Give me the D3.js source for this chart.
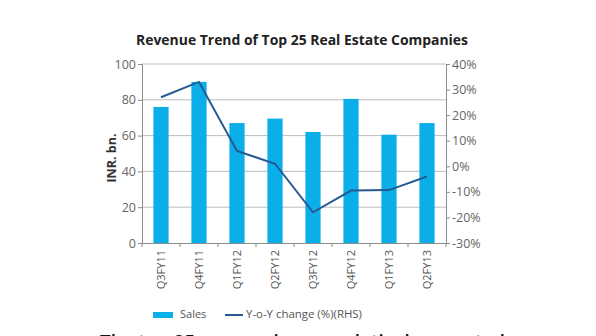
<!DOCTYPE html>
<html>
<head>
<meta charset="utf-8">
<script src="https://cdn.jsdelivr.net/npm/d3@7"></script>
<style>
  body { margin: 0; background: #fff; overflow: hidden; }
  svg { display: block; font-family: "Open Sans", sans-serif; }
</style>
</head>
<body>
<svg width="596" height="336"></svg>
<script>
// Quarterly figures
const quarters = ["Q3FY11", "Q4FY11", "Q1FY12", "Q2FY12", "Q3FY12", "Q4FY12", "Q1FY13", "Q2FY13"];
const sales = [76, 90, 67, 69.5, 62, 80.5, 60.5, 67];
const yoyChange = [27, 33, 6, 1, -18, -9.5, -9.3, -4];
const leftTicks = [0, 20, 40, 60, 80, 100];
const rightTicks = [-30, -20, -10, 0, 10, 20, 30, 40];

const svg = d3.select("svg");
const plotLeft = 142, plotRight = 446, plotTop = 64, plotBottom = 243;

const x = d3.scaleBand().domain(quarters).range([plotLeft, plotRight]).paddingInner(0.6).paddingOuter(0.3);
const yL = d3.scaleLinear().domain([0, 100]).range([plotBottom, plotTop]);
const yR = d3.scaleLinear().domain([-30, 40]).range([plotBottom, plotTop]);
const step = (plotRight - plotLeft) / quarters.length;

// Title
svg.append("text")
    .attr("x", 302).attr("y", 45)
    .attr("text-anchor", "middle")
    .attr("font-size", 14.5).attr("font-weight", "bold")
    .attr("fill", "#222")
    .attr("textLength", 332).attr("lengthAdjust", "spacingAndGlyphs")
    .text("Revenue Trend of Top 25 Real Estate Companies");

// Gridlines
svg.append("g")
    .selectAll("line")
    .data(leftTicks.filter(d => d > 0))
    .enter().append("line")
    .attr("x1", plotLeft).attr("x2", plotRight)
    .attr("y1", d => yL(d)).attr("y2", d => yL(d))
    .attr("stroke", "#bdbdbd").attr("stroke-width", 1);

// Bars
svg.append("g")
    .selectAll("rect")
    .data(quarters)
    .enter().append("rect")
    .attr("x", d => x(d))
    .attr("width", x.bandwidth())
    .attr("y", (d, i) => yL(sales[i]))
    .attr("height", (d, i) => plotBottom - yL(sales[i]))
    .attr("fill", "#0aaee8");

// Y-o-Y line
const line = d3.line()
    .x((d, i) => x(quarters[i]) + x.bandwidth() / 2)
    .y(d => yR(d));
svg.append("path")
    .datum(yoyChange)
    .attr("d", line)
    .attr("fill", "none")
    .attr("stroke", "#255b92")
    .attr("stroke-width", 2);

// Axes
const axisColor = "#8c8c8c";
const gL = svg.append("g")
    .attr("transform", `translate(${plotLeft},0)`)
    .call(d3.axisLeft(yL).tickValues(leftTicks).tickSize(4).tickPadding(2));
const gR = svg.append("g")
    .attr("transform", `translate(${plotRight},0)`)
    .call(d3.axisRight(yR).tickValues(rightTicks).tickSize(4).tickPadding(2).tickFormat(d => d + "%"));
[gL, gR].forEach(g => {
    g.select(".domain").attr("stroke", axisColor);
    g.selectAll(".tick line").attr("stroke", axisColor);
    g.selectAll(".tick text").attr("fill", "#666").attr("font-size", 12.5).attr("font-family", "Open Sans, sans-serif");
});

// Category axis with ticks between groups
const gX = svg.append("g");
gX.append("line")
    .attr("x1", plotLeft).attr("x2", plotRight)
    .attr("y1", plotBottom + 0.5).attr("y2", plotBottom + 0.5)
    .attr("stroke", axisColor);
gX.selectAll(".sep")
    .data(d3.range(quarters.length + 1))
    .enter().append("line")
    .attr("x1", i => plotLeft + i * step).attr("x2", i => plotLeft + i * step)
    .attr("y1", plotBottom).attr("y2", plotBottom + 4)
    .attr("stroke", axisColor);
gX.selectAll("text")
    .data(quarters)
    .enter().append("text")
    .attr("transform", d => `translate(${x(d) + x.bandwidth() / 2 + 4},${plotBottom + 7}) rotate(-90)`)
    .attr("text-anchor", "end")
    .attr("font-size", 11).attr("fill", "#555")
    .text(d => d);

// Left axis title
svg.append("text")
    .attr("transform", "translate(116,158) rotate(-90)")
    .attr("text-anchor", "middle")
    .attr("font-size", 12.5).attr("font-weight", "bold")
    .attr("fill", "#333")
    .text("INR. bn.");

// Legend
const lg = svg.append("g");
lg.append("rect").attr("x", 153).attr("y", 312).attr("width", 20).attr("height", 6).attr("fill", "#0aaee8");
lg.append("text").attr("x", 180).attr("y", 318).attr("font-size", 11).attr("fill", "#555").text("Sales");
lg.append("line").attr("x1", 225).attr("x2", 243).attr("y1", 315).attr("y2", 315).attr("stroke", "#255b92").attr("stroke-width", 2);
lg.append("text").attr("x", 246).attr("y", 318).attr("font-size", 11).attr("fill", "#555")
    .attr("textLength", 116).attr("lengthAdjust", "spacingAndGlyphs")
    .text("Y-o-Y change (%)(RHS)");

// Start of the article text below the chart
svg.append("text")
    .attr("x", 100).attr("y", 349)
    .attr("font-size", 19).attr("font-weight", 600).attr("fill", "#111")
    .attr("textLength", 405).attr("lengthAdjust", "spacingAndGlyphs")
    .text("The top 25 companies cumulatively reported");
</script>
</body>
</html>
